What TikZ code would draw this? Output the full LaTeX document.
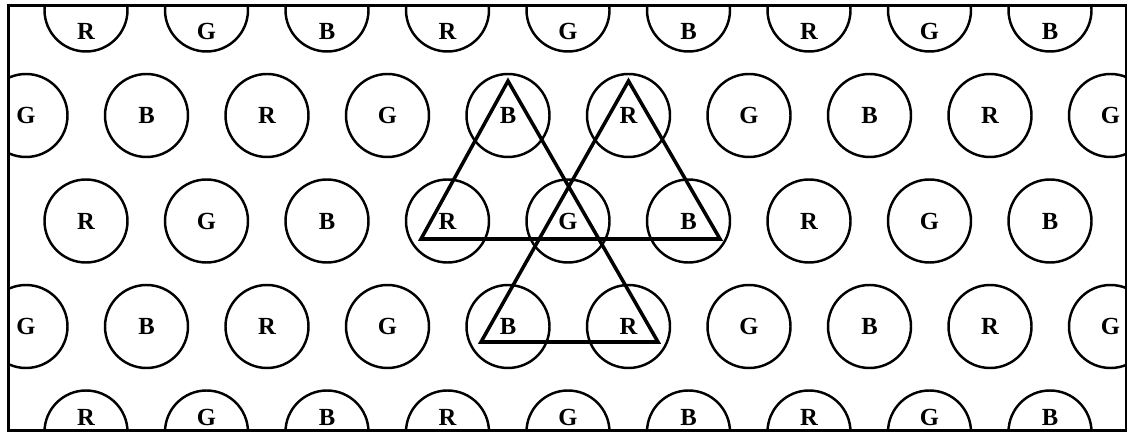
\documentclass[tikz,border=0pt]{standalone}
\usepackage{fontspec}
\setmainfont{Liberation Serif}
\usetikzlibrary{calc}
\tikzset{
  every picture/.style={line width=1.4pt},
  disc/.style={circle, draw, minimum size=1.66cm, inner sep=0pt},
  every label/.style={font=\bfseries\fontsize{14}{16}\selectfont, inner sep=0pt},
  frame/.style={draw, line width=1.5pt, anchor=south west, inner sep=0pt, minimum width=22.36cm, minimum height=8.5cm},
  tri/.style={line width=2pt, line join=miter},
}

\begin{document}
\begin{tikzpicture}
  \useasboundingbox (0,0) rectangle (22.54,8.72);
  \node[frame] (frame) at (0.14,0.08) {};
  \begin{scope}
    \clip (frame.south west) rectangle (frame.north east);
    % rows that start with R (top and bottom rows are cut by the frame)
    \foreach \j/\dy in {0/-0.42, 2/0, 4/0.3}
      \foreach \lab [count=\k from 0] in {R,G,B,R,G,B,R,G,B}
        \node[disc, label={[yshift=\dy cm]center:\lab}] (c\j-\k) at (1.72+2.41*\k, 8.52-2.11*\j) {};
    % rows that start with G
    \foreach \j in {1,3}
      \foreach \lab [count=\k from 0] in {G,B,R,G,B,R,G,B,R,G}
        \node[disc, label=center:\lab] (c\j-\k) at (0.52+2.41*\k, 8.52-2.11*\j) {};
  \end{scope}
  % the three triangles
  \coordinate (apexL) at ([yshift=0.69cm]c1-4.center);
  \coordinate (apexR) at ([yshift=0.69cm]c1-5.center);
  \coordinate (baseL) at (8.42,3.94);
  \coordinate (baseR) at (14.40,3.94);
  \coordinate (footL) at (9.62,1.88);
  \coordinate (footR) at (13.16,1.88);
  \draw[tri] (baseL) -- (apexL) -- (footR) -- (footL) -- (apexR) -- (baseR) -- cycle;
\end{tikzpicture}
\end{document}
